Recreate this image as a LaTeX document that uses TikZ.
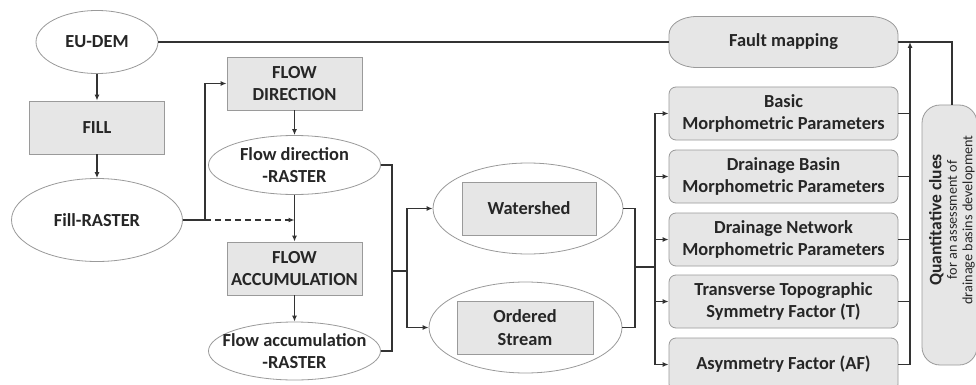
\documentclass[tikz,border=0pt]{standalone}
\usepackage{fontspec}
\setmainfont{Carlito}
\usetikzlibrary{shapes.geometric,arrows.meta}
\definecolor{boxfill}{HTML}{E6E6E6}
\definecolor{edgegray}{HTML}{9A9A9A}
\definecolor{lncol}{HTML}{333333}
\definecolor{txtcol}{HTML}{262626}
\tikzset{
  lbl/.style={font=\fontsize{18.4}{22.5}\selectfont\bfseries, text=txtcol, align=center, inner sep=0pt},
  ell/.style={ellipse, draw=edgegray, fill=white, line width=0.8pt, inner sep=0pt},
  rbox/.style={rectangle, draw=edgegray, fill=boxfill, line width=0.8pt, lbl},
  sbox/.style={rbox, minimum width=135pt, minimum height=53pt},
  pbox/.style={rbox, rounded corners=7pt, minimum width=229pt, minimum height=53pt},
  conn/.style={draw=lncol, line width=1.2pt},
  arr/.style={conn, -{Latex[length=6pt,width=5pt]}}
}
\begin{document}
\begin{tikzpicture}[x=1pt,y=-1pt]
\useasboundingbox (0,0) rectangle (976,385);
\clip (0,0) rectangle (976,385);
\fill[white] (0,0) rectangle (976,385);

% left column
\node[ell, minimum width=122pt, minimum height=63pt, label={[lbl]center:EU-DEM}] (eudem) at (97,42) {};
\node[sbox] (fill) at (97,127.5) {FILL};
\node[ell, minimum width=171pt, minimum height=83pt, label={[lbl]center:Fill-RASTER}] (fillr) at (97,220) {};

% middle column
\node[sbox] (fdir) at (294.5,83.5) {FLOW\\DIRECTION};
\node[ell, minimum width=172pt, minimum height=59pt, label={[lbl]center:Flow direction\\-RASTER}] (fdirr) at (294.5,165) {};
\node[sbox] (facc) at (294.5,268.5) {FLOW\\ACCUMULATION};
\node[ell, minimum width=172pt, minimum height=58pt, label={[lbl]center:Flow accumulation\\-RASTER}] (faccr) at (294.5,351) {};

% watershed / stream
\node[ell, minimum width=190pt, minimum height=91pt] (ws) at (528,208.5) {};
\node[sbox, minimum width=134pt] (wsbox) at (529,208.5) {Watershed};
\node[ell, minimum width=193pt, minimum height=91pt] (os) at (525.5,327.5) {};
\node[sbox, minimum width=136pt] (osbox) at (525,327.5) {Ordered\\Stream};

% right column
\draw[draw=edgegray, fill=boxfill, line width=0.8pt]
  (697,16.5) -- (870,16.5)
  .. controls (886,16.5) and (898,24.5) .. (898,34.5) -- (898,49.5)
  .. controls (898,59.5) and (886,67.5) .. (870,67.5) -- (697,67.5)
  .. controls (681,67.5) and (669,59.5) .. (669,49.5) -- (669,34.5)
  .. controls (669,24.5) and (681,16.5) .. (697,16.5) -- cycle;
\node[lbl, minimum width=229pt, minimum height=51pt] (fault) at (783.5,42) {Fault mapping};
\node[pbox] (basic) at (783.5,113.5) {Basic\\Morphometric Parameters};
\node[pbox] (dbasin) at (783.5,176.5) {Drainage Basin\\Morphometric Parameters};
\node[pbox] (dnet) at (783.5,239.5) {Drainage Network\\Morphometric Parameters};
\node[pbox] (trans) at (783.5,301.5) {Transverse Topographic\\Symmetry Factor (T)};
\node[pbox] (asym) at (783.5,364.5) {Asymmetry Factor (AF)};

\node[rectangle, draw=edgegray, fill=boxfill, line width=0.8pt, rounded corners=18pt, minimum width=55pt, minimum height=260pt] (quant) at (949.5,235) {};
\node[rotate=90, text=txtcol, align=center, inner sep=0pt, font=\fontsize{14.2}{15.5}\selectfont] (quanttxt) at (952,220)
  {{\fontsize{17.5}{18}\selectfont\bfseries Quantitative clues}\\for an assessment of\\drainage basins development};

% connectors
\draw[conn] (eudem.east) -- (eudem.east -| fault.west);
\draw[arr] (eudem) -- (fill);
\draw[arr] (fill) -- (fillr);
\coordinate (j1) at (205,220);
\draw[conn] (fillr.east) -- (j1);
\draw[arr] (j1) |- (fdir.west);
\draw[arr, dash pattern=on 6pt off 4pt] (j1) -- (j1 -| fdirr.south);
\draw[arr] (fdir) -- (fdirr);
\draw[arr] (fdirr) -- (facc);
\draw[arr] (facc) -- (faccr);

\coordinate (j2) at (392,271);
\coordinate (j3) at (407,271);
\draw[conn] (fdirr.east) -- (fdirr.east -| j2) -- (faccr.east -| j2) -- (faccr.east);
\draw[conn] (j2) -- (j3);
\draw[arr] (j3) |- (ws.west);
\draw[arr] (j3) |- (os.west);

\coordinate (j4) at (635,267);
\coordinate (j5) at (655,267);
\draw[conn] (ws.east) -- (ws.east -| j4) -- (os.east -| j4) -- (os.east);
\draw[conn] (j4) -- (j5);
\foreach \n in {basic,dbasin,dnet,trans,asym} {
  \draw[arr] (j5) |- (\n.west);
}

\coordinate (j6) at (910,42);
\foreach \n in {basic,dbasin,dnet,trans} {
  \draw[conn] (\n.east) -- (\n.east -| j6);
}
\draw[conn] (asym.east) -- (asym.east -| j6);
\draw[arr] (asym.east -| j6) -- (j6);
\coordinate (j7) at (952,105);
\draw[conn] (fault.east) -| (j7);
\end{tikzpicture}
\end{document}
